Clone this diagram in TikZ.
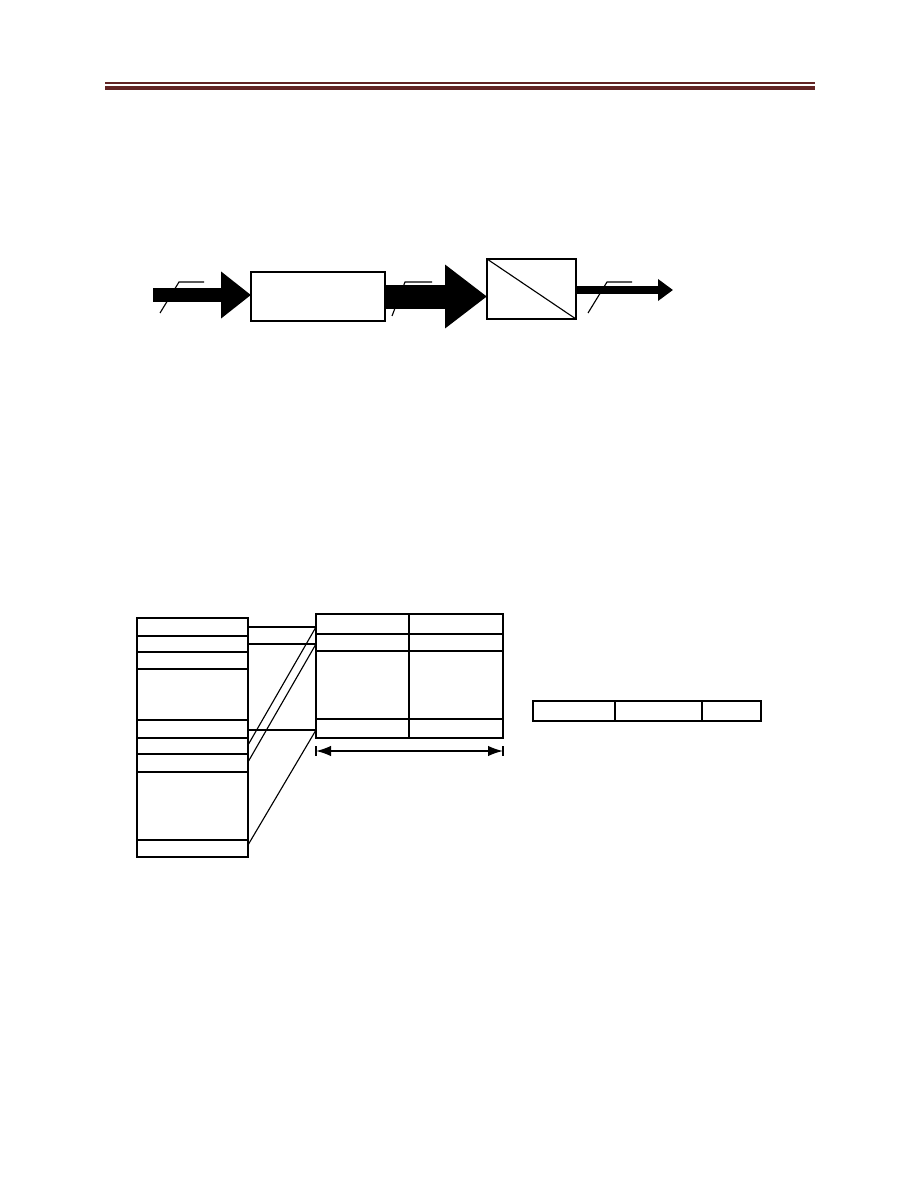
\documentclass[tikz,border=0pt]{standalone}
\usepackage{tikz}
\usepackage{xcolor}
\usetikzlibrary{arrows.meta}
\definecolor{hdrred}{HTML}{622423}

\begin{document}
\begin{tikzpicture}[x=0.6667pt, y=-0.6667pt, line width=0.75pt,
  blk/.style={draw, rectangle, inner sep=0pt, outer sep=0pt, line width=0.8pt},
  heavy/.style={line width=1.7pt}]
\useasboundingbox (0,0) rectangle (918,1188);
% header rule
\draw[hdrred, line width=1pt] (105,83) -- (815,83);
\fill[hdrred] (105,86) rectangle (815,90);
% top chain
\node[blk, minimum width=89.3pt, minimum height=32.7pt] (b1) at (318,296.5) {};
\node[blk, minimum width=59.3pt, minimum height=40pt] (b2) at (531.5,289) {};
\draw (b2.north west) -- (b2.south east);
\coordinate (in) at (153,295);
\coordinate (out) at (673,290);
\draw[line width=9.3pt, -{Triangle[length=20pt,width=30pt]}] (in) -- (in -| b1.west);
\draw[line width=16pt, -{Triangle[length=28pt,width=40.7pt]}] (b1.east) -- (b1.east -| b2.west);
\draw[line width=5.3pt, -{Triangle[length=10pt,width=14pt]}] (b2.east |- out) -- (out);
\draw (160,313) -- ++(19,-31) -- ++(25,0);
\draw (392,316) -- ++(13,-34) -- ++(27,0);
\draw (588,313) -- ++(19,-31) -- ++(25,0);
% left column
\draw (137,618) rectangle (248,857);
\foreach \y in {636,652,669,720,738,754,840}
  \draw (137,\y) -- (248,\y);
\draw[heavy] (137,772) -- (248,772);
% right table
\draw (316,614) rectangle (503,738);
\draw (409,614) -- (409,738);
\draw[heavy] (316,634) -- (503,634);
\draw[heavy] (316,651) -- (503,651);
\draw (316,719) -- (503,719);
% connectors
\coordinate (l1) at (248,627);
\coordinate (l2) at (248,644);
\coordinate (l5) at (248,730);
\coordinate (l6) at (248,745);
\coordinate (l7) at (248,762);
\coordinate (l9) at (248,845);
\coordinate (t1) at (316,627);
\coordinate (t2) at (316,644);
\coordinate (t4) at (316,730);
\draw (l1) -- (t1);
\draw (l2) -- (t2);
\draw[heavy] (l5) -- (t4);
\draw (l6) -- (t1);
\draw (l7) -- (t2);
\draw (l9) -- (t4);
% width arrow
\draw[line width=1.1pt, {Latex[length=10pt,width=7pt]}-{Latex[length=10pt,width=7pt]}] (316,751) -- (503,751);
\draw (316,746) -- (316,756);
\draw (503,746) -- (503,756);
% small table
\draw (533,701) rectangle (761,721);
\draw[heavy] (615,701) -- (615,721);
\draw (702,701) -- (702,721);
\end{tikzpicture}
\end{document}
